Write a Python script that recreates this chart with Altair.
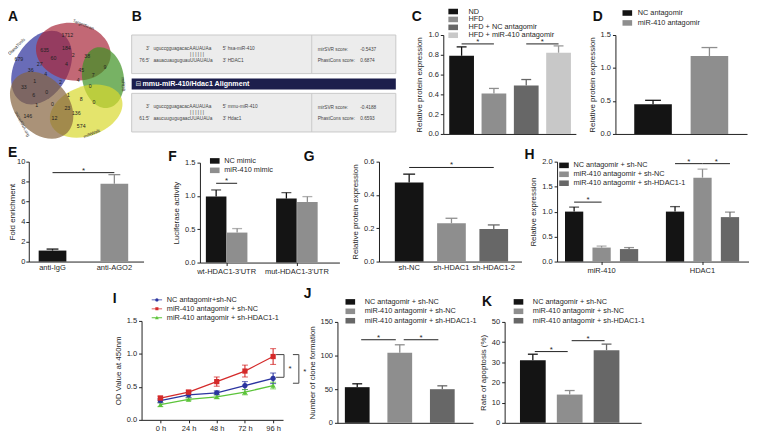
import altair as alt
import pandas as pd

FONT = "Liberation Sans"
W, H = 749, 427
M = 8


def px(v):
    return v - M


def py(v):
    return v - M


INK = "#1f1f1f"
BLACK = "#141414"
GRAY = "#8e8e8e"
DARK = "#676767"
LIGHT = "#c8c8c8"
LAB = 7.6   # tick label size
LEG = 7.4   # legend label size

# ---------------- data ----------------
# A: Venn diagram
venn_sets = ["DianaTools", "TargetScan", "miRDB", "miRWalk", "microRNA.org"]
venn_colors = ["#2a2d9a", "#a8283a", "#3d9222", "#d8d92e", "#86643f"]
venn_counts = [1712, 635, 184, 679, 60, 2, 38, 9, 27, 4, 45, 36, 7, 4, 1, 2, 4, 0,
               33, 0, 6, 1, 8, 0, 1, 0, 23, 136, 146, 12, 574]

# B: alignment
b_hsa_mirna = "uguccgguagacacAAUAUAa"
b_hsa_target = "aauacuauguguauUUAUAUa"
b_mmu_mirna = "uguccgguagacacAAUAUAa"
b_mmu_target = "aaucuugugugaacUUAUAUa"
b_scores = [["mirSVR score:", "-0.5437"], ["PhastCons score:", "0.6874"],
            ["mirSVR score:", "-0.4188"], ["PhastCons score:", "0.6593"]]

# C
c_cats = ["ND", "HFD", "HFD + NC antagomir", "HFD + miR-410 antagomir"]
c_means = [0.79, 0.41, 0.49, 0.82]
c_errs = [0.09, 0.05, 0.06, 0.07]
c_sig = [["ND", "HFD", 0.91], ["HFD + NC antagomir", "HFD + miR-410 antagomir", 0.91]]

# D
d_cats = ["NC antagomir", "miR-410 antagomir"]
d_means = [0.45, 1.18]
d_errs = [0.06, 0.13]

# E
e_cats = ["anti-IgG", "anti-AGO2"]
e_means = [1.1, 7.8]
e_errs = [0.15, 0.9]
e_sig = [["anti-IgG", "anti-AGO2", 8.9]]

# F
f_groups = ["wt-HDAC1-3'UTR", "mut-HDAC1-3'UTR"]
f_series = ["NC mimic", "miR-410 mimic"]
f_means = [[0.99, 0.45], [0.96, 0.91]]
f_errs = [[0.10, 0.06], [0.09, 0.08]]
f_sig = [["wt-HDAC1-3'UTR", "NC mimic", "miR-410 mimic", 1.19]]

# G
g_cats = ["sh-NC", "sh-HDAC1", "sh-HDAC1-2"]
g_means = [0.475, 0.23, 0.195]
g_errs = [0.05, 0.03, 0.025]
g_sig = [["sh-NC", "sh-HDAC1-2", 0.565]]

# H
h_groups = ["miR-410", "HDAC1"]
h_series = ["NC antagomir + sh-NC", "miR-410 antagomir + sh-NC", "miR-410 antagomir + sh-HDAC1-1"]
h_means = [[1.0, 0.28, 0.25], [1.0, 1.68, 0.89]]
h_errs = [[0.09, 0.03, 0.03], [0.10, 0.17, 0.10]]
h_sig = [["miR-410", h_series[0], h_series[1], 1.19],
         ["HDAC1", h_series[0], h_series[1], 1.96],
         ["HDAC1", h_series[1], h_series[2], 1.96]]

# I
i_times = ["0 h", "24 h", "48 h", "72 h", "96 h"]
i_series = ["NC antagomir+sh-NC", "miR-410 antagomir + sh-NC", "miR-410 antagomir + sh-HDAC1-1"]
i_vals = [[0.29, 0.38, 0.41, 0.52, 0.63],
          [0.33, 0.42, 0.58, 0.74, 0.96],
          [0.23, 0.31, 0.35, 0.42, 0.52]]
i_errs = [[0.03, 0.04, 0.03, 0.06, 0.08],
          [0.03, 0.03, 0.07, 0.09, 0.12],
          [0.03, 0.02, 0.03, 0.04, 0.05]]
i_colors = ["#2b35a0", "#d42a2a", "#5cc43a"]
i_brackets = [[0.99, 0.645], [0.99, 0.555]]

# J
jk_cats = ["NC antagomir + sh-NC", "miR-410 antagomir + sh-NC", "miR-410 antagomir + sh-HDAC1-1"]
j_means = [53, 104, 50]
j_errs = [5, 12, 5]
j_sig = [[jk_cats[0], jk_cats[1], 123.5], [jk_cats[1], jk_cats[2], 123.5]]

# K
k_means = [31, 14, 36]
k_errs = [3, 2, 3]
k_sig = [[jk_cats[0], jk_cats[1], 35.3], [jk_cats[1], jk_cats[2], 40.7]]

# ---------------- helpers ----------------
AX = dict(domainColor=INK, tickColor=INK, labelColor=INK, titleColor=INK,
          labelFont=FONT, titleFont=FONT, labelFontSize=LAB, titleFontSize=8,
          titleFontWeight="normal", grid=False, tickSize=3, domainWidth=1,
          tickWidth=1)


def yaxis(x, ticks, fmt, title, tpad=4, lpad=2):
    return alt.Axis(orient="left", offset=-px(x), values=ticks, format=fmt,
                    title=title, titlePadding=tpad, labelPadding=lpad, **AX)


def xaxis(y, labels=True, ticks=False):
    return alt.Axis(orient="bottom", offset=py(y) - H, title=None, labels=labels,
                    ticks=ticks, labelAngle=0, labelPadding=2, **AX)


def band(cats, x0, x1, c0, cn, bw):
    n = len(cats)
    L = x1 - x0
    step = (cn - c0) / (n - 1)
    pi = 1 - bw / step
    po = (L / step - n + pi) / 2
    align = (c0 - bw / 2 - x0) / (L - step * (n - pi))
    return alt.Scale(domain=cats, range=[px(x0), px(x1)], paddingInner=pi,
                     paddingOuter=po, align=align), step


def yscale(dmax, y0, ytop):
    return alt.Scale(domain=[0, dmax], range=[py(y0), py(ytop)], nice=False, zero=False)


RECT_SYM = "M-1.3,-0.75H1.3V0.75H-1.3Z"
SYM_SIZE = 56


def legend_layer(cats, colors, sym_left, cy, spacing, text_x, syms=None, size=SYM_SIZE, rowpad=None):
    h = size ** 0.5
    lx = sym_left + 1
    leg = alt.Legend(orient="none", legendX=px(lx), legendY=py(cy - h / 2 - 0.5), title=None,
                     labelFont=FONT, labelFontSize=LEG, labelColor=INK,
                     symbolSize=size, symbolStrokeWidth=0,
                     rowPadding=rowpad if rowpad is not None else spacing - max(h, LEG),
                     labelOffset=text_x - lx - h, padding=0, labelLimit=300, symbolOpacity=1)
    df = pd.DataFrame({"k": cats})
    enc = dict(color=alt.Color("k:N", scale=alt.Scale(domain=cats, range=colors), legend=leg, sort=cats),
               shape=alt.Shape("k:N", scale=alt.Scale(domain=cats, range=syms or [RECT_SYM] * len(cats)),
                               legend=leg, sort=cats))
    return alt.Chart(df).mark_point(filled=True, opacity=0).encode(**enc)


def star(chart, xenc, yenc, dx, extra=None):
    enc = dict(x=xenc, y=yenc)
    if extra:
        enc.update(extra)
    return chart.mark_text(text="*", font=FONT, fontSize=8, color=INK, dx=dx, dy=0,
                           baseline="alphabetic").encode(**enc)


def simple_bars(cats, means, errs, colors, errcolors, xs, ys, xax, yax,
                sigs, star_dx, cap=4, trim=0):
    df = pd.DataFrame({"cat": cats, "mean": means, "err": errs})
    df["top"] = df["mean"] + df["err"]
    Xc = alt.X("cat:N", scale=xs, axis=xax, sort=cats)
    Yc = alt.Y("mean:Q", scale=ys, axis=yax)
    col = alt.Color("cat:N", scale=alt.Scale(domain=cats, range=colors), legend=None)
    stk = alt.Stroke("cat:N", scale=alt.Scale(domain=cats, range=errcolors), legend=None)
    base = alt.Chart(df)
    layers = [
        base.mark_rule(strokeWidth=1.3).encode(x=Xc, y=Yc, y2="top:Q", stroke=stk),
        base.mark_rule(strokeWidth=1.3, xOffset=-cap, x2Offset=cap).encode(
            x=Xc, x2="cat:N", y=alt.Y("top:Q", scale=ys, axis=yax), stroke=stk),
        base.mark_bar().encode(x=Xc, y=Yc, color=col),
    ]
    if sigs:
        sdf = pd.DataFrame(sigs, columns=["c1", "c2", "level"])
        sbase = alt.Chart(sdf)
        X1 = alt.X("c1:N", scale=xs, axis=xax, sort=cats)
        YL = alt.Y("level:Q", scale=ys, axis=yax)
        layers.append(sbase.mark_rule(color=INK, strokeWidth=1, xOffset=trim, x2Offset=-trim).encode(
            x=X1, x2="c2:N", y=YL))
        layers.append(star(sbase, X1, YL, star_dx))
    return alt.layer(*layers)


def grouped_bars(groups, series, means, errs, colors, xs, inner, ys, xax, yax, sigs, star_dx, cap=4):
    rows = []
    for gi, g in enumerate(groups):
        for si, s in enumerate(series):
            rows.append({"group": g, "series": s, "mean": means[gi][si],
                         "top": means[gi][si] + errs[gi][si]})
    df = pd.DataFrame(rows)
    Xg = alt.X("group:N", scale=xs, axis=xax, sort=groups)
    XO = alt.XOffset("series:N", scale=alt.Scale(domain=series, paddingInner=inner, paddingOuter=0),
                     sort=series)
    Yc = alt.Y("mean:Q", scale=ys, axis=yax)
    col = alt.Color("series:N", scale=alt.Scale(domain=series, range=colors), legend=None)
    base = alt.Chart(df)
    layers = [
        base.mark_rule(strokeWidth=1.3).encode(x=Xg, xOffset=XO, y=Yc, y2="top:Q", color=col),
        base.mark_tick(size=2 * cap, thickness=1.3).encode(
            x=Xg, xOffset=XO, y=alt.Y("top:Q", scale=ys, axis=yax), color=col),
        base.mark_bar().encode(x=Xg, xOffset=XO, y=Yc, color=col),
    ]
    if sigs:
        srows = []
        for k, (g, s1, s2, lv) in enumerate(sigs):
            srows.append({"id": k, "group": g, "series": s1, "level": lv})
            srows.append({"id": k, "group": g, "series": s2, "level": lv})
        sdf = pd.DataFrame(srows)
        sb = alt.Chart(sdf)
        YL = alt.Y("level:Q", scale=ys, axis=yax)
        layers.append(sb.mark_line(color=INK, strokeWidth=1).encode(
            x=Xg, xOffset=XO, y=YL, detail="id:N"))
        first = pd.DataFrame([{"group": g, "series": s1, "level": lv} for g, s1, s2, lv in sigs])
        layers.append(star(alt.Chart(first), Xg, YL, star_dx, {"xOffset": XO}))
    return alt.layer(*layers)


def letter(ch, x, y):
    return alt.Chart(pd.DataFrame({"t": [ch]})).mark_text(
        font=FONT, fontSize=14, fontWeight="bold", color="#111", align="left",
        baseline="alphabetic").encode(text="t:N", x=alt.value(px(x)), y=alt.value(py(y)))


# ---------------- panel A: Venn ----------------
venn_pos = [(68, 33), (45, 48), (67, 46), (19, 57), (54, 56), (74, 53), (88, 54), (106, 65),
            (40, 62), (67, 62), (82, 68), (31, 68), (94, 73), (46, 72), (35, 79), (61, 81),
            (79, 78), (91, 85), (24, 86), (47, 91), (34, 94), (69, 94), (82, 98), (95, 101),
            (37, 104), (53, 103), (68, 107), (77, 112), (28, 115), (55, 117), (82, 125)]
venn_ell = [  # center x, center y, semi-major, semi-minor, rotation
    (42, 66, 40, 27, 300), (74, 50, 38, 29, 10), (104, 76, 31, 21, 80),
    (87, 110, 38, 25, 160), (42, 104, 38, 27, 50)]
venn_lab = [(17, 45, 315), (84, 23, 22), (124, 83, 88), (93, 133, 338), (22, 123, 62)]

vx = alt.Scale(domain=[0, 140], range=[px(0), px(140)])
vy = alt.Scale(domain=[0, 140], range=[py(0), py(140)])
a_layers = []
for (cx, cy, a, b, rot), colr, name in zip(venn_ell, venn_colors, venn_sets):
    r = b / a
    path = f"M-1,0A1,{r:.3f} 0 1,1 1,0A1,{r:.3f} 0 1,1 -1,0Z"
    a_layers.append(alt.Chart(pd.DataFrame({"x": [cx], "y": [cy], "set": [name]})).mark_point(
        shape=path, size=(2 * a) ** 2, angle=rot, filled=True, fill=colr, opacity=0.7,
        strokeWidth=0).encode(x=alt.X("x:Q", scale=vx, axis=None), y=alt.Y("y:Q", scale=vy, axis=None)))
vdf = pd.DataFrame({"x": [p[0] for p in venn_pos], "y": [p[1] for p in venn_pos],
                    "n": [str(v) for v in venn_counts]})
a_layers.append(alt.Chart(vdf).mark_text(font=FONT, fontSize=5.3, color="#222").encode(
    x=alt.X("x:Q", scale=vx, axis=None), y=alt.Y("y:Q", scale=vy, axis=None), text="n:N"))
for (lx, ly, ang), name in zip(venn_lab, venn_sets):
    a_layers.append(alt.Chart(pd.DataFrame({"x": [lx], "y": [ly], "t": [name]})).mark_text(
        font=FONT, fontSize=4.5, color="#333", angle=ang).encode(
        x=alt.X("x:Q", scale=vx, axis=None), y=alt.Y("y:Q", scale=vy, axis=None), text="t:N"))
panel_a = alt.layer(*a_layers)

# ---------------- panel B: alignment ----------------
bx = alt.Scale(domain=[0, 267], range=[px(133), px(400)])
by = alt.Scale(domain=[0, 99], range=[py(33), py(132)])
boxes = pd.DataFrame({"x": [0, 0], "x2": [267, 267], "y": [0, 59], "y2": [39, 98]})
band_df = pd.DataFrame({"x": [0], "x2": [267], "y": [44], "y2": [55]})
div_df = pd.DataFrame({"x": [182, 182], "y": [0, 59], "y2": [39, 98]})
BX = alt.X("x:Q", scale=bx, axis=None)
BY = alt.Y("y:Q", scale=by, axis=None)
texts = []
for oy, mi, tg, nm1, nm2, pre in [(0, b_hsa_mirna, b_hsa_target, "hsa-miR-410", "HDAC1", "76:5'"),
                                   (59, b_mmu_mirna, b_mmu_target, "mmu-miR-410", "Hdac1", "61:5'")]:
    texts += [(18, oy + 14, "3'", "right"), (22, oy + 14, mi, "left"), (92, oy + 14, "5'", "left"),
              (97, oy + 14, nm1, "left"), (59, oy + 20, "| | | | | |", "left"),
              (18, oy + 26, pre, "right"), (22, oy + 26, tg, "left"), (92, oy + 26, "3'", "left"),
              (97, oy + 26, nm2, "left")]
for k, (lab, val) in enumerate(b_scores):
    oy = 0 if k < 2 else 59
    yy = oy + (15 if k % 2 == 0 else 26)
    texts += [(188, yy, lab, "left"), (231, yy, val, "left")]
tdf = pd.DataFrame(texts, columns=["x", "y", "t", "al"])
b_layers = [
    alt.Chart(boxes).mark_rect(fill="#ececec", stroke="#c9c9c9", strokeWidth=1).encode(
        x=BX, x2="x2:Q", y=BY, y2="y2:Q"),
    alt.Chart(band_df).mark_rect(fill="#1c1e4c").encode(x=BX, x2="x2:Q", y=BY, y2="y2:Q"),
    alt.Chart(div_df).mark_rule(color="#c9c9c9").encode(x=BX, y=BY, y2="y2:Q"),
    alt.Chart(tdf[tdf.al == "left"]).mark_text(font=FONT, fontSize=4.8, color="#444", align="left").encode(
        x=BX, y=BY, text="t:N"),
    alt.Chart(tdf[tdf.al == "right"]).mark_text(font=FONT, fontSize=4.8, color="#444", align="right").encode(
        x=BX, y=BY, text="t:N"),
    alt.Chart(pd.DataFrame({"x": [4], "y": [49.5], "t": ["\u229f"]})).mark_text(
        font="DejaVu Sans", fontSize=7, color="#dddddd", align="left").encode(x=BX, y=BY, text="t:N"),
    alt.Chart(pd.DataFrame({"x": [11], "y": [49.5], "t": ["mmu-miR-410/Hdac1 Alignment"]})).mark_text(
        font=FONT, fontSize=7.2, fontWeight="bold", color="white", align="left").encode(
        x=BX, y=BY, text="t:N"),
]
panel_b = alt.layer(*b_layers)

# ---------------- panel C ----------------
xs_c, st_c = band(c_cats, 448, 582, 466.5, 564.5, 25)
panel_c = simple_bars(c_cats, c_means, c_errs, [BLACK, GRAY, DARK, LIGHT], [BLACK, GRAY, DARK, "#9a9a9a"],
                      xs_c, yscale(1.0, 133, 33), xaxis(133, labels=False),
                      yaxis(448, [0, 0.2, 0.4, 0.6, 0.8, 1.0], ".1f", "Relative protein expression"),
                      c_sig, st_c / 2, cap=5)
leg_c = legend_layer(c_cats, [BLACK, GRAY, DARK, LIGHT], 453, 9.5, 6.9, 473, rowpad=-1.8)

# ---------------- panel D ----------------
xs_d, st_d = band(d_cats, 622, 755, 660, 717, 38)
panel_d = simple_bars(d_cats, d_means, d_errs, [BLACK, GRAY], [BLACK, GRAY], xs_d,
                      yscale(1.5, 133, 33), xaxis(133, labels=False),
                      yaxis(622, [0, 0.5, 1.0, 1.5], ".1f", "Relative protein expression"),
                      None, 0, cap=8)
leg_d = legend_layer(d_cats, [BLACK, GRAY], 629, 11, 9.5, 644)

# ---------------- panel E ----------------
xs_e, st_e = band(e_cats, 29, 145, 53, 115.5, 28)
panel_e = simple_bars(e_cats, e_means, e_errs, [BLACK, GRAY], [BLACK, GRAY], xs_e,
                      yscale(10, 262, 161), xaxis(262),
                      yaxis(29, [0, 2, 4, 6, 8, 10], "d", "Fold enrichment", tpad=0, lpad=1),
                      e_sig, st_e / 2, cap=6)

# ---------------- panel F ----------------
xs_f, st_f = band(f_groups, 202, 343, 229, 300, 42)
panel_f = grouped_bars(f_groups, f_series, f_means, f_errs, [BLACK, GRAY], xs_f, 0.02,
                       yscale(1.5, 263, 162), xaxis(263, ticks=True),
                       yaxis(202, [0, 0.5, 1.0, 1.5], ".1f", "Luciferase activity"),
                       f_sig, 10.5, cap=5)
leg_f = legend_layer(f_series, [BLACK, GRAY], 212, 160.5, 9, 226)

# ---------------- panel G ----------------
xs_g, st_g = band(g_cats, 383, 527, 413.5, 499, 29)
panel_g = simple_bars(g_cats, g_means, g_errs, [BLACK, GRAY, DARK], [BLACK, GRAY, DARK], xs_g,
                      yscale(0.6, 262, 161), xaxis(262),
                      yaxis(383, [0, 0.2, 0.4, 0.6], ".1f", "Relative protein expression"),
                      g_sig, st_g, cap=6)

# ---------------- panel H ----------------
xs_h, st_h = band(h_groups, 563, 757, 608, 710, 74)
panel_h = grouped_bars(h_groups, h_series, h_means, h_errs, [BLACK, GRAY, DARK], xs_h, 0.335,
                       yscale(2.0, 262, 161), xaxis(262, ticks=True),
                       yaxis(563, [0, 0.5, 1.0, 1.5, 2.0], ".1f", "Relative expression"),
                       h_sig, 14, cap=5)
leg_h = legend_layer(h_series, [BLACK, GRAY, DARK], 565, 165, 8.5, 579)

# ---------------- panel I ----------------
rows = []
for si, s in enumerate(i_series):
    for ti, t in enumerate(i_times):
        v, e = i_vals[si][ti], i_errs[si][ti]
        rows.append({"series": s, "time": t, "v": v, "lo": v - e, "hi": v + e})
idf = pd.DataFrame(rows)
xs_i = alt.Scale(type="point", domain=i_times, range=[px(143), px(286)], padding=0.51, align=0.655)
ys_i = yscale(1.5, 422, 322)
XI = alt.X("time:N", scale=xs_i, axis=xaxis(422, ticks=True), sort=i_times)
YI = alt.Y("v:Q", scale=ys_i, axis=yaxis(143, [0, 0.5, 1.0, 1.5], ".1f", "OD Value at 450nm"))
CI = alt.Color("series:N", scale=alt.Scale(domain=i_series, range=i_colors), legend=None)
SI = alt.Shape("series:N", scale=alt.Scale(domain=i_series, range=["circle", "square", "triangle-up"]),
               legend=None)
ib = alt.Chart(idf)
bdf = pd.DataFrame({"t": ["96 h", "96 h"], "top": [b[0] for b in i_brackets],
                    "bot": [b[1] for b in i_brackets], "k": [0, 1]})
bdf["mid"] = (bdf["top"] + bdf["bot"]) / 2
panel_i_layers = [
    ib.mark_line(strokeWidth=1.3).encode(x=XI, y=YI, color=CI),
    ib.mark_rule(strokeWidth=1.1).encode(x=XI, y=alt.Y("lo:Q", scale=ys_i), y2="hi:Q", color=CI),
    ib.mark_tick(size=6, thickness=1.1).encode(x=XI, y=alt.Y("lo:Q", scale=ys_i), color=CI),
    ib.mark_tick(size=6, thickness=1.1).encode(x=XI, y=alt.Y("hi:Q", scale=ys_i), color=CI),
    ib.mark_point(filled=True, size=28, opacity=1).encode(x=XI, y=YI, color=CI, shape=SI),
]
for k, (o1, o2) in enumerate([(3, 11), (20, 26)]):
    sub = alt.Chart(bdf[bdf.k == k])
    panel_i_layers += [
        sub.mark_rule(color="#555", strokeWidth=1.1, xOffset=o2).encode(
            x=alt.X("t:N", scale=xs_i), y=alt.Y("top:Q", scale=ys_i), y2="bot:Q"),
        sub.mark_rule(color="#555", strokeWidth=1.1, xOffset=o1, x2Offset=o2).encode(
            x=alt.X("t:N", scale=xs_i), x2="t:N", y=alt.Y("top:Q", scale=ys_i)),
        sub.mark_rule(color="#555", strokeWidth=1.1, xOffset=o1, x2Offset=o2).encode(
            x=alt.X("t:N", scale=xs_i), x2="t:N", y=alt.Y("bot:Q", scale=ys_i)),
        sub.mark_text(text="*", font=FONT, fontSize=8, color=INK, dx=o2 + 6, dy=3).encode(
            x=alt.X("t:N", scale=xs_i), y=alt.Y("mid:Q", scale=ys_i)),
    ]
panel_i = alt.layer(*panel_i_layers)

LINE_SYMS = [
    "M-1,-0.08H1V0.08H-1Z M-0.32,0A0.32,0.32 0 1,1 0.32,0A0.32,0.32 0 1,1 -0.32,0Z",
    "M-1,-0.08H1V0.08H-1Z M-0.3,-0.3H0.3V0.3H-0.3Z",
    "M-1,-0.08H1V0.08H-1Z M0,-0.36L0.36,0.28L-0.36,0.28Z",
]
leg_i = legend_layer(i_series, i_colors, 152, 301, 9.5, 168, syms=LINE_SYMS, size=110)

# ---------------- panel J ----------------
xs_j, st_j = band(jk_cats, 341, 478, 361, 447, 25)
panel_j = simple_bars(jk_cats, j_means, j_errs, [BLACK, GRAY, DARK], [BLACK, GRAY, DARK], xs_j,
                      yscale(150, 425, 323), xaxis(425, labels=False),
                      yaxis(341, [0, 50, 100, 150], "d", "Number of clone formation"),
                      j_sig, st_j / 2, cap=5, trim=4)
leg_j = legend_layer(jk_cats, [BLACK, GRAY, DARK], 349, 303, 9, 368)

# ---------------- panel K ----------------
xs_k, st_k = band(jk_cats, 510, 648, 538.5, 613, 26)
panel_k = simple_bars(jk_cats, k_means, k_errs, [BLACK, GRAY, DARK], [BLACK, GRAY, DARK], xs_k,
                      yscale(50, 425, 323), xaxis(425, labels=False),
                      yaxis(510, [0, 10, 20, 30, 40, 50], "d", "Rate of apoptosis (%)"),
                      k_sig, st_k / 2, cap=5, trim=2)
leg_k = legend_layer(jk_cats, [BLACK, GRAY, DARK], 519, 303, 9, 538)

letters = [letter(c, x, y) for c, x, y in [
    ("A", 8, 19), ("B", 133, 19), ("C", 416, 19), ("D", 599, 19),
    ("E", 8, 156), ("F", 170, 160), ("G", 307, 160), ("H", 530, 158),
    ("I", 114, 304), ("J", 307, 299), ("K", 487, 307)]]

chart = alt.layer(
    panel_a, panel_b, panel_c, panel_d, panel_e, panel_f, panel_g, panel_h,
    panel_i, panel_j, panel_k,
    leg_c, leg_d, leg_f, leg_h, leg_i, leg_j, leg_k, *letters
).resolve_scale(
    x="independent", y="independent", color="independent", stroke="independent",
    shape="independent", xOffset="independent"
).resolve_axis(x="independent", y="independent").resolve_legend(
    color="independent", shape="independent", stroke="independent"
).properties(
    width=W, height=H, padding=0, autosize=alt.AutoSizeParams(type="none"), background="white"
).configure_view(stroke=None)

chart.save("out.html", embed_options={"renderer": "svg", "actions": False})
